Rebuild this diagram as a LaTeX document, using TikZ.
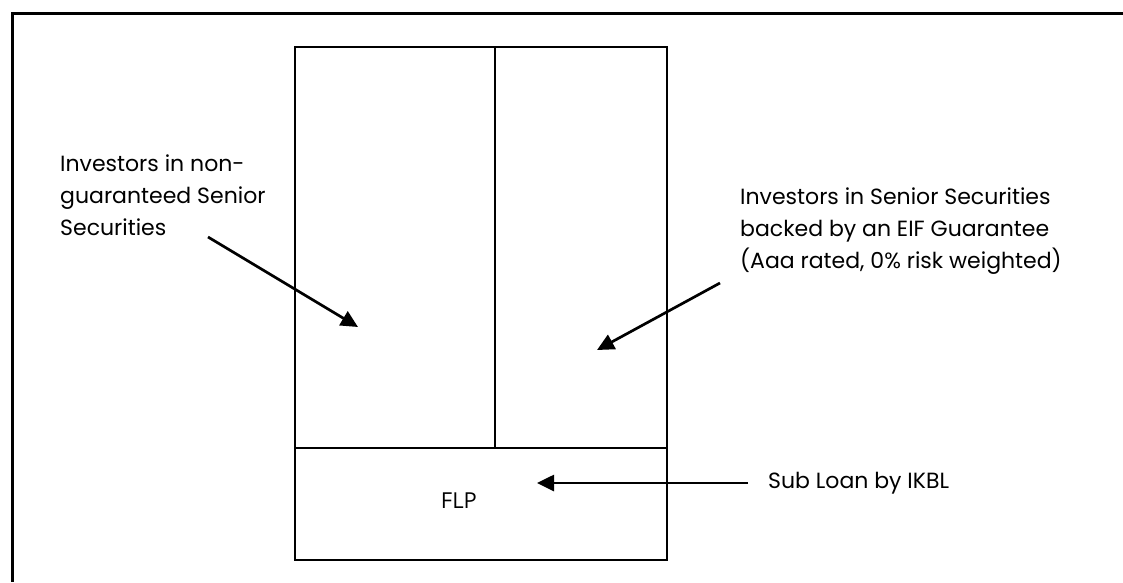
\documentclass[tikz,border=0pt]{standalone}
\usepackage{fontspec}
\setmainfont{Poppins}
\newfontfamily\flpfont{Open Sans}
\usetikzlibrary{arrows.meta,positioning}

\begin{document}
\begin{tikzpicture}[
  x=1pt, y=-1pt,
  font=\fontsize{22}{32}\selectfont,       % one size for all notes
  tranche/.style = {rectangle,
                    draw,
                    line width=1.9pt,
                    inner sep=0pt,
                    anchor=north west},
  note/.style    = {align=left,
                    inner sep=0pt,
                    anchor=north west},
  arrow/.style   = {-{Triangle[length=17pt,width=16pt]}, line width=2.7pt}
]
\useasboundingbox (0,0) rectangle (1123,582);

% open frame round the page
\draw[line width=2.2pt] (1123,13.5) -- (12.5,13.5) -- (12.5,582);

% the tranches
\node[tranche, minimum width=200pt, minimum height=401pt] (plain) at (294,46)  {};
\node[tranche, minimum width=172pt, minimum height=401pt] (eif)   at (494,46)  {};
\node[tranche, minimum width=372pt, minimum height=112pt] (flp)   at (294,447) {};
\node[font=\flpfont\fontsize{22}{26}\selectfont] (flptext) at ([xshift=-22pt,yshift=3pt]flp.center) {FLP};

% who holds what
\node[note] (plainnote) at (60,155)  {Investors in non-\\guaranteed Senior\\Securities};
\node[note] (eifnote)   at (740,188) {Investors in Senior Securities\\backed by an EIF Guarantee\\(Aaa rated, 0\% risk weighted)};
\node[note, anchor=west] (subloan) at (768,483) {Sub Loan by IKBL};

\coordinate (plainfrom) at (208,237);
\coordinate (plainin)   at (358,327);
\coordinate (eiffrom)   at (720,283);
\coordinate (eifin)     at (597,350);
\coordinate (flpin)     at (537,483);

\draw[arrow] (plainfrom) -- (plainin);
\draw[arrow] (eiffrom)   -- (eifin);
\draw[arrow] ([xshift=-20pt]subloan.west) -- (flpin);

\end{tikzpicture}
\end{document}
